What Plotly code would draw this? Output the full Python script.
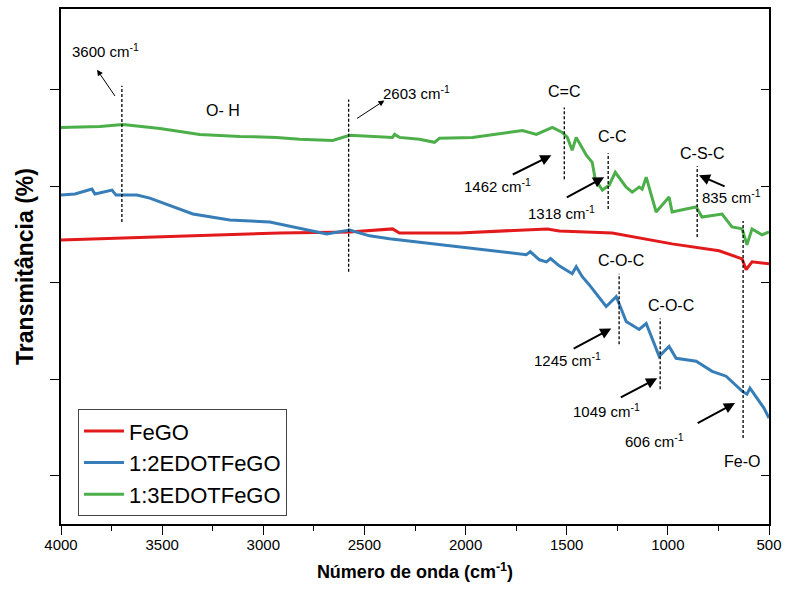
import plotly.graph_objects as go

# ---------------- data ----------------
wn_fego = [4000, 2919, 2573, 2361, 2327, 2030, 1596, 1537, 1275, 979, 747, 633, 613, 584, 500]
t_fego = [3.443, 3.515, 3.526, 3.557, 3.515, 3.515, 3.557, 3.536, 3.515, 3.402, 3.330, 3.247, 3.134, 3.216, 3.196]

wn_12 = [4000, 3931, 3847, 3832, 3748, 3728, 3625, 3561, 3348, 3166, 2968, 2820, 2687, 2573, 2475,
         2376, 2114, 1932, 1798, 1700, 1680, 1635, 1600, 1580, 1537, 1473, 1453, 1423, 1389, 1305, 1255, 1206,
         1142, 1107, 1043, 994, 959, 860, 781, 712, 633, 609, 594, 525, 500]
t_12 = [3.907, 3.918, 3.969, 3.918, 3.959, 3.907, 3.907, 3.876, 3.711, 3.649, 3.629, 3.567, 3.505, 3.546, 3.485,
        3.454, 3.392, 3.351, 3.320, 3.290, 3.320, 3.237, 3.215, 3.250, 3.175, 3.093, 3.165, 3.062, 2.979, 2.753,
        2.856, 2.598, 2.515, 2.577, 2.237, 2.340, 2.216, 2.186, 2.082, 2.031, 1.876, 1.845, 1.907, 1.701, 1.598]

wn_13 = [4000, 3807, 3694, 3511, 3314, 3116, 2934, 2820, 2657, 2573, 2361, 2351, 2327, 2228, 2154,
         2129, 1966, 1833, 1719, 1650, 1571, 1522, 1497, 1473, 1453, 1403, 1374, 1359, 1324, 1290,
         1260, 1206, 1176, 1142, 1127, 1107, 1058, 994, 979, 910, 860, 831, 732, 683, 633, 609, 584, 535, 500]
t_13 = [4.608, 4.619, 4.639, 4.598, 4.536, 4.515, 4.505, 4.485, 4.474, 4.526, 4.505, 4.536, 4.505, 4.485, 4.454,
        4.495, 4.505, 4.546, 4.577, 4.536, 4.608, 4.557, 4.505, 4.371, 4.505, 4.320, 4.247, 4.072, 3.959, 4.010,
        4.144, 3.990, 3.938, 3.990, 3.969, 4.093, 3.732, 3.887, 3.732, 3.763, 3.784, 3.680, 3.711, 3.577, 3.557,
        3.392, 3.557, 3.495, 3.526]

series_names = ["FeGO", "1:2EDOTFeGO", "1:3EDOTFeGO"]
series_colors = ["#e31a1c", "#377eb8", "#4daf4a"]

x_ticks = [4000, 3500, 3000, 2500, 2000, 1500, 1000, 500]
y_ticks = [1, 2, 3, 4, 5]

# dashed marker lines: wavenumber, y start, y end
vline_wn = [3699, 2578, 1512, 1295, 855, 628, 1241, 1038]
vline_y0 = [3.629, 3.113, 4.072, 3.763, 3.474, 1.392, 2.361, 1.897]
vline_y1 = [5.041, 4.897, 4.814, 4.340, 4.206, 3.639, 3.093, 2.629]

# group labels
group_text = ["O- H", "C=C", "C-C", "C-S-C", "C-O-C", "C-O-C", "Fe-O"]
group_wn = [3200, 1512, 1275, 833, 1232, 984, 633]
group_y = [4.784, 4.979, 4.510, 4.340, 3.227, 2.763, 1.144]

# wavenumber labels
peak_text = ["3600", "2603", "1462", "1318", "835", "1245", "1049", "606"]
peak_wn = [3778, 2243, 1844, 1527, 683, 1497, 1302, 1068]
peak_y = [5.40, 4.97, 4.01, 3.73, 3.89, 2.20, 1.68, 1.37]

# arrows: tail -> head
arr_tail_wn = [3728, 2544, 1774, 1507, 712, 1473, 1240, 860]
arr_tail_y = [4.918, 4.691, 4.113, 3.876, 3.990, 2.309, 1.804, 1.536]
arr_head_wn = [3822, 2401, 1576, 1315, 846, 1280, 1053, 668]
arr_head_y = [5.206, 4.887, 4.320, 4.093, 4.113, 2.526, 2.010, 1.753]
arr_width = [1, 1, 2, 2, 2, 2, 2, 2]

# ---------------- figure ----------------
fig = go.Figure()
for wn, t, name, col in zip([wn_fego, wn_12, wn_13], [t_fego, t_12, t_13], series_names, series_colors):
    fig.add_trace(go.Scatter(x=wn, y=t, mode="lines", name=name,
                             line=dict(color=col, width=3)))

# invisible trace for right-side axis
fig.add_trace(go.Scatter(x=[None], y=[None], yaxis="y2", showlegend=False, hoverinfo="skip"))

for xv, a, b in zip(vline_wn, vline_y0, vline_y1):
    fig.add_shape(type="line", x0=xv, x1=xv, y0=a, y1=b, xref="x", yref="y",
                  line=dict(color="black", width=1.3, dash="3px,2px"))

annotations = []
for t, xv, yv in zip(group_text, group_wn, group_y):
    annotations.append(dict(x=xv, y=yv, xref="x", yref="y", text=t, showarrow=False,
                            font=dict(family="Liberation Sans, Arial", size=16, color="black")))
for t, xv, yv in zip(peak_text, peak_wn, peak_y):
    annotations.append(dict(x=xv, y=yv, xref="x", yref="y", text=t + " cm<sup>-1</sup>", showarrow=False,
                            font=dict(family="Liberation Sans, Arial", size=15, color="black")))
for tx, ty, hx, hy, w in zip(arr_tail_wn, arr_tail_y, arr_head_wn, arr_head_y, arr_width):
    annotations.append(dict(x=hx, y=hy, ax=tx, ay=ty, xref="x", yref="y", axref="x", ayref="y",
                            text="", showarrow=True, arrowhead=2, arrowsize=1.2 if w == 1 else 1.1,
                            arrowwidth=w, arrowcolor="black", standoff=0, startstandoff=0))

fig.update_layout(
    width=789, height=604,
    margin=dict(l=61, r=19, t=7, b=80),
    plot_bgcolor="white", paper_bgcolor="white",
    showlegend=True,
    legend=dict(x=0.024, y=0.223, xanchor="left", yanchor="top",
                font=dict(family="Liberation Sans, Arial", size=22, color="black"),
                bgcolor="white", bordercolor="#444", borderwidth=1,
                tracegroupgap=0, itemwidth=40),
    annotations=annotations,
    xaxis=dict(range=[4000, 500], tickvals=x_ticks, ticktext=[str(v) for v in x_ticks],
               ticks="outside", ticklen=9, tickwidth=1.2, tickcolor="black",
               ticklabelstandoff=-3,
               minor=dict(dtick=250, ticks="outside", ticklen=5, tickwidth=1.2, tickcolor="black"),
               showline=True, linecolor="black", linewidth=1.5, mirror=True,
               showgrid=False, zeroline=False,
               tickfont=dict(family="Liberation Sans, Arial", size=15, color="black"),
               title=dict(text="<b>Número de onda (cm<sup>-1</sup>)</b>", standoff=14,
                          font=dict(family="Liberation Sans, Arial", size=18, color="black"))),
    yaxis=dict(range=[0.5, 5.835], tickvals=y_ticks, showticklabels=False,
               ticks="outside", ticklen=9, tickwidth=1.2, tickcolor="black",
               showline=True, linecolor="black", linewidth=1.5, mirror=True,
               showgrid=False, zeroline=False,
               title=dict(text="<b>Transmitância (%)</b>", standoff=10,
                          font=dict(family="Liberation Sans, Arial", size=23, color="black"))),
    yaxis2=dict(range=[0.5, 5.835], overlaying="y", side="right", tickvals=y_ticks,
                showticklabels=False, ticks="inside", ticklen=8, tickwidth=1.2, tickcolor="black",
                showline=False, showgrid=False, zeroline=False),
)

fig.write_html("out.html")
